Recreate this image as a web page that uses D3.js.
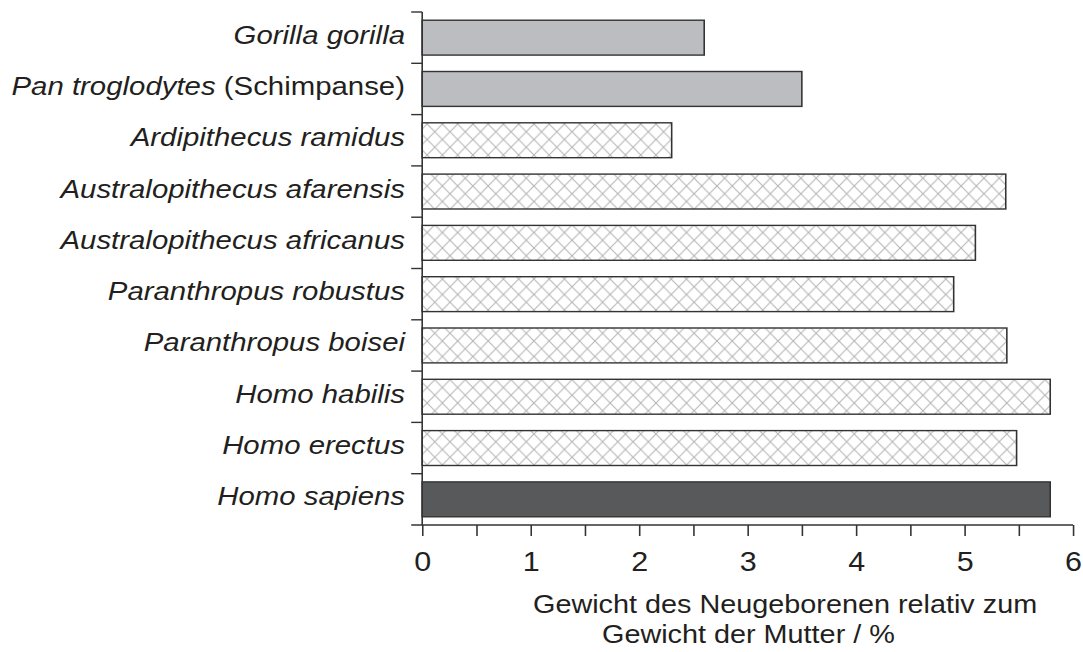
<!DOCTYPE html>
<html>
<head>
<meta charset="utf-8">
<style>
  body { margin: 0; background: #fff; }
  svg { display: block; }
  .lbl, .tick text, .title { font-family: "Liberation Sans", Arial, sans-serif; fill: #231f20; }
</style>
</head>
<body>
<svg id="chart"></svg>
<script src="https://cdn.jsdelivr.net/npm/d3@7"></script>
<script>
// data
var species = ["Gorilla gorilla", "Pan troglodytes", "Ardipithecus ramidus",
  "Australopithecus afarensis", "Australopithecus africanus", "Paranthropus robustus",
  "Paranthropus boisei", "Homo habilis", "Homo erectus", "Homo sapiens"];
var extra = ["", " (Schimpanse)", "", "", "", "", "", "", "", ""];
var ratio = [2.6, 3.5, 2.3, 5.38, 5.1, 4.9, 5.39, 5.79, 5.48, 5.79];
var group = ["ape", "ape", "fossil", "fossil", "fossil", "fossil", "fossil", "fossil", "fossil", "human"];
var xTicks = [0, 0.5, 1, 1.5, 2, 2.5, 3, 3.5, 4, 4.5, 5, 5.5, 6];
var titleLines = ["Gewicht des Neugeborenen relativ zum", "Gewicht der Mutter / %"];

// the reference is stretched sideways, so draw in a narrower box and stretch
var W = 1083, H = 652, sx = 1.13;
var vw = W / sx;

var svg = d3.select("#chart")
  .attr("width", W).attr("height", H)
  .attr("viewBox", "0 0 " + vw + " " + H)
  .attr("preserveAspectRatio", "none");

var ink = "#333";

var x = d3.scaleLinear().domain([0, 6]).range([422.2 / sx, 1073 / sx]);
var y = d3.scaleBand().domain(species).range([12, 525])
  .paddingInner(0.32).paddingOuter(0.16);

var fills = { ape: "#bcbdc0", human: "#58595b", fossil: "url(#hatch)" };

var defs = svg.append("defs");
var pat = defs.append("pattern")
  .attr("id", "hatch")
  .attr("patternUnits", "userSpaceOnUse")
  .attr("width", 13.5).attr("height", 15.5);
pat.append("rect").attr("width", 13.5).attr("height", 15.5).attr("fill", "#fff");
pat.append("path")
  .attr("d", "M0,0L13.5,15.5M13.5,0L0,15.5")
  .attr("stroke", "#b5b5b5").attr("stroke-width", 1).attr("fill", "none");

// bars
svg.append("g").selectAll("rect")
  .data(species)
  .enter().append("rect")
  .attr("x", x(0))
  .attr("y", function (d) { return y(d); })
  .attr("width", function (d, i) { return x(ratio[i]) - x(0); })
  .attr("height", y.bandwidth())
  .attr("fill", function (d, i) { return fills[group[i]]; })
  .attr("stroke", ink)
  .attr("stroke-width", 1.4);

// y axis: line plus ticks on the band edges
var tickLen = 11;
var ya = svg.append("g").attr("stroke", ink).attr("stroke-width", 1.4);
ya.append("line")
  .attr("x1", x(0)).attr("x2", x(0))
  .attr("y1", y.range()[0]).attr("y2", y.range()[1]);
ya.selectAll(".edge")
  .data(d3.range(species.length))
  .enter().append("line")
  .attr("class", "edge")
  .attr("x1", x(0) - tickLen / sx).attr("x2", x(0))
  .attr("y1", function (i) { return y.range()[0] + i * y.step(); })
  .attr("y2", function (i) { return y.range()[0] + i * y.step(); });

// category labels
var lbl = svg.append("g").selectAll("text")
  .data(species)
  .enter().append("text")
  .attr("class", "lbl")
  .attr("x", 405 / sx)
  .attr("y", function (d) { return y(d) + y.bandwidth() / 2 + 6; })
  .attr("text-anchor", "end")
  .attr("font-size", 26);
lbl.append("tspan").attr("font-style", "italic").text(function (d) { return d; });
lbl.append("tspan").text(function (d, i) { return extra[i]; });

// x axis
var xa = svg.append("g")
  .attr("transform", "translate(0,525)")
  .call(d3.axisBottom(x)
    .tickValues(xTicks)
    .tickSize(tickLen)
    .tickPadding(16)
    .tickFormat(function (d) { return d % 1 === 0 ? d : ""; }));
xa.select(".domain").remove();
xa.selectAll(".tick line").attr("stroke", ink).attr("stroke-width", 1.4);
xa.selectAll(".tick text").attr("font-size", 27).attr("font-family", null);
xa.append("line")
  .attr("x1", x(0) - tickLen / sx).attr("x2", x(6))
  .attr("stroke", ink).attr("stroke-width", 1.4);

// axis title
svg.append("g").selectAll("text")
  .data(titleLines)
  .enter().append("text")
  .attr("class", "title")
  .attr("x", function (d, i) { return (i ? 602 : 533) / sx; })
  .attr("y", function (d, i) { return i ? 643 : 613; })
  .attr("font-size", 25.5)
  .text(function (d) { return d; });
</script>
</body>
</html>
